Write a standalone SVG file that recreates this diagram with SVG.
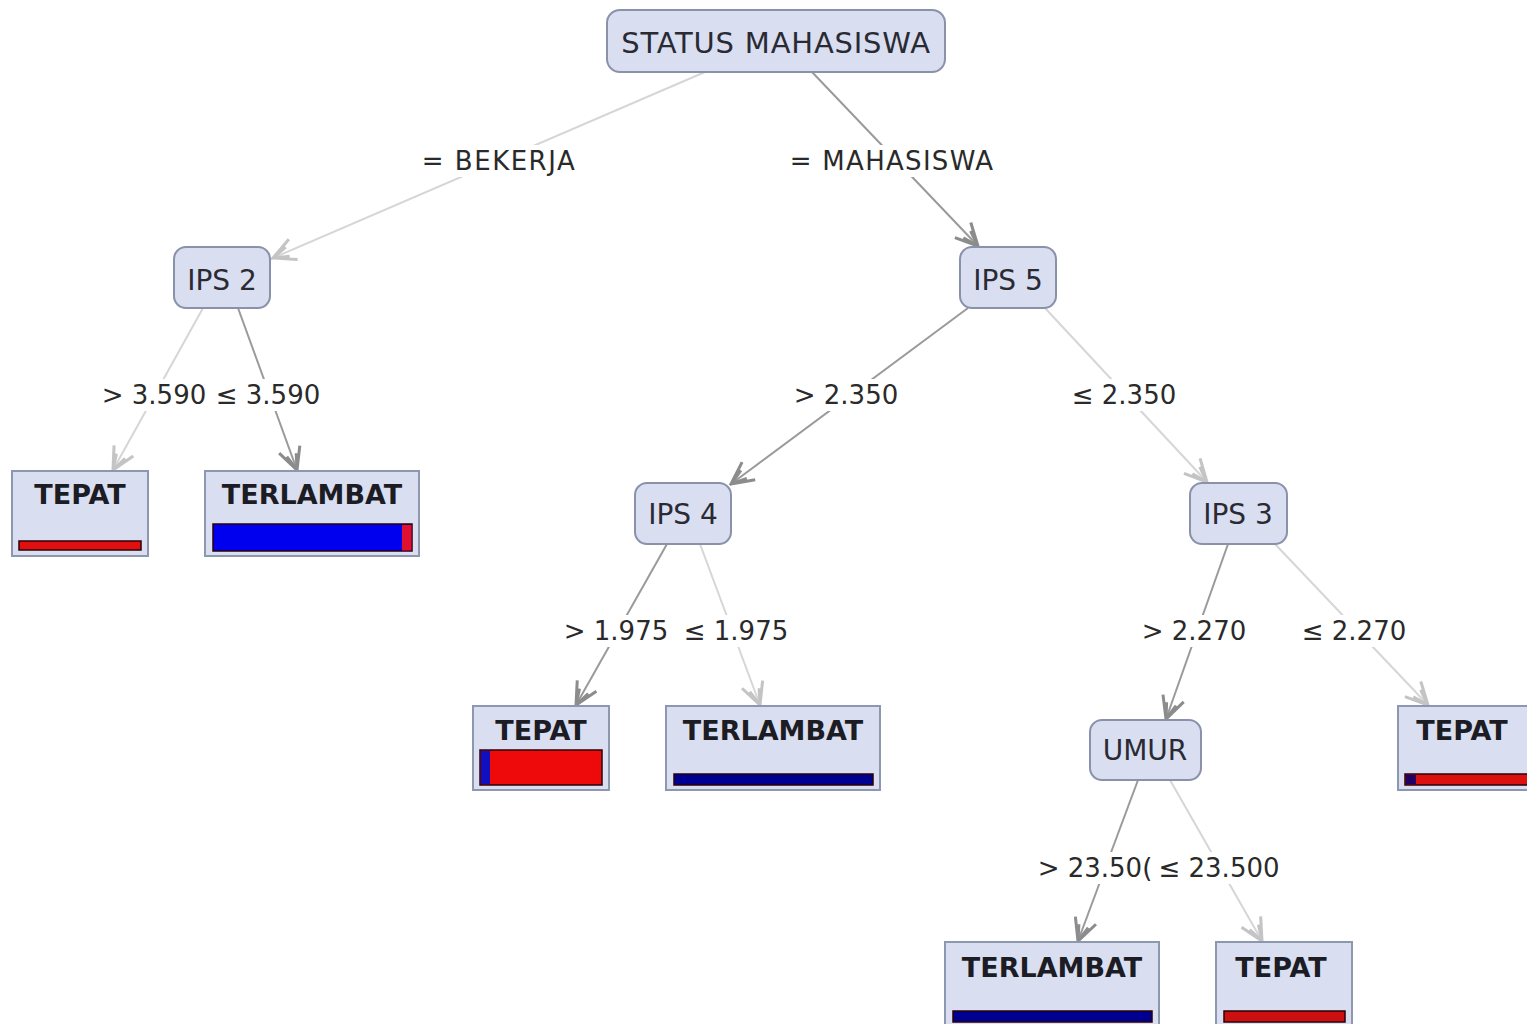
<svg xmlns="http://www.w3.org/2000/svg" width="1527" height="1024" viewBox="0 0 1527 1024">
<style>
.node rect{fill:#d9def1;stroke:#8a92ab;stroke-width:2}
.node text{font-family:"DejaVu Sans",sans-serif;font-size:28px;fill:#2a2a33;text-anchor:middle}
.leaf .box{fill:#d9dff1;stroke:#8e97b0;stroke-width:2}
.leaf text{font-family:"DejaVu Sans",sans-serif;font-weight:bold;font-size:27px;fill:#1c1c24;text-anchor:middle}
.bar{stroke:#2a0008;stroke-width:1.5}
.e{fill:none;stroke-width:2}
.dk{stroke:#9a9a9a}
.lt{stroke:#d6d6d6}
.lbl text{font-family:"DejaVu Sans",sans-serif;font-size:26px;fill:#2a2a2a;text-anchor:middle}
.lbl rect{fill:#ffffff}
</style>
<defs>
<marker id="ad" viewBox="-26 -13 28 26" refX="0" refY="0" markerWidth="28" markerHeight="26" markerUnits="userSpaceOnUse" orient="auto">
<path d="M-22,-11 L0,0 L-22,11 M-16,-5 L0,0 L-16,5" fill="none" stroke="#8c8c8c" stroke-width="3"/>
</marker>
<marker id="al" viewBox="-26 -13 28 26" refX="0" refY="0" markerWidth="28" markerHeight="26" markerUnits="userSpaceOnUse" orient="auto">
<path d="M-22,-11 L0,0 L-22,11 M-16,-5 L0,0 L-16,5" fill="none" stroke="#c4c4c4" stroke-width="3"/>
</marker>
</defs>
<rect width="1527" height="1024" fill="#ffffff"/>
<g id="connectors">
<line class="e lt" x1="705" y1="72" x2="273" y2="258" marker-end="url(#al)"/>
<line class="e dk" x1="812" y1="72" x2="978" y2="246" marker-end="url(#ad)"/>
<line class="e lt" x1="203" y1="308" x2="113" y2="470" marker-end="url(#al)"/>
<line class="e dk" x1="238" y1="308" x2="297" y2="470" marker-end="url(#ad)"/>
<line class="e dk" x1="968" y1="308" x2="731" y2="484" marker-end="url(#ad)"/>
<line class="e lt" x1="1045" y1="308" x2="1207" y2="482" marker-end="url(#al)"/>
<line class="e dk" x1="667" y1="544" x2="576" y2="705" marker-end="url(#ad)"/>
<line class="e lt" x1="700" y1="544" x2="760" y2="705" marker-end="url(#al)"/>
<line class="e dk" x1="1228" y1="544" x2="1166" y2="719" marker-end="url(#ad)"/>
<line class="e lt" x1="1275" y1="544" x2="1428" y2="705" marker-end="url(#al)"/>
<line class="e dk" x1="1138" y1="780" x2="1078" y2="941" marker-end="url(#ad)"/>
<line class="e lt" x1="1170" y1="780" x2="1262" y2="941" marker-end="url(#al)"/>
<g class="lbl">
<rect x="416" y="145" width="166" height="32"/><text x="499" y="170" letter-spacing="1.5">= BEKERJA</text>
<rect x="786" y="145" width="212" height="32"/><text x="892" y="170" letter-spacing="1.3">= MAHASISWA</text>
<rect x="100" y="379" width="224" height="32"/><text x="154" y="404">&gt; 3.590</text><text x="268" y="404">≤ 3.590</text>
<rect x="792" y="379" width="108" height="32"/><text x="846" y="404">&gt; 2.350</text>
<rect x="1068" y="379" width="112" height="32"/><text x="1124" y="404">≤ 2.350</text>
<rect x="562" y="615" width="228" height="32"/><text x="616" y="640">&gt; 1.975</text><text x="736" y="640">≤ 1.975</text>
<rect x="1140" y="615" width="108" height="32"/><text x="1194" y="640">&gt; 2.270</text>
<rect x="1298" y="615" width="110" height="32"/><text x="1354" y="640">≤ 2.270</text>
<rect x="1040" y="852" width="240" height="32"/><text x="1095" y="877">&gt; 23.50(</text><text x="1219" y="877">≤ 23.500</text>
</g>
</g>
<g id="n-status" class="node"><rect x="607" y="10" width="338" height="62" rx="13"/><text x="776" y="53" style="font-size:29px" letter-spacing="0.8">STATUS MAHASISWA</text></g>
<g id="n-ips2" class="node"><rect x="174" y="247" width="96" height="61" rx="12"/><text x="222" y="290">IPS 2</text></g>
<g id="n-ips5" class="node"><rect x="960" y="247" width="96" height="61" rx="12"/><text x="1008" y="290">IPS 5</text></g>
<g id="n-ips4" class="node"><rect x="635" y="483" width="96" height="61" rx="12"/><text x="683" y="524">IPS 4</text></g>
<g id="n-ips3" class="node"><rect x="1190" y="483" width="97" height="61" rx="12"/><text x="1238" y="524">IPS 3</text></g>
<g id="n-umur" class="node"><rect x="1090" y="720" width="111" height="60" rx="12"/><text x="1145" y="760">UMUR</text></g>
<g id="l-tepat1" class="leaf"><rect class="box" x="12" y="471" width="136" height="85"/><text x="80" y="504">TEPAT</text><rect class="bar" x="19" y="541" width="122" height="9" fill="#e01010"/></g>
<g id="l-terlambat1" class="leaf"><rect class="box" x="205" y="471" width="214" height="85"/><text x="312" y="504">TERLAMBAT</text><rect class="bar" x="213" y="524" width="199" height="27" fill="#0000ee"/><rect x="402" y="525" width="9.5" height="25.5" fill="#e01030"/></g>
<g id="l-tepat2" class="leaf"><rect class="box" x="473" y="706" width="136" height="84"/><text x="541" y="740">TEPAT</text><rect class="bar" x="480" y="750" width="122" height="35" fill="#ee0a0a"/><rect x="481" y="751" width="9" height="33" fill="#1010c0"/></g>
<g id="l-terlambat2" class="leaf"><rect class="box" x="666" y="706" width="214" height="84"/><text x="773" y="740">TERLAMBAT</text><rect class="bar" x="674" y="774" width="199" height="11" fill="#000090"/></g>
<g id="l-tepat3" class="leaf"><rect class="box" x="1398" y="706" width="140" height="84"/><text x="1462" y="740">TEPAT</text><rect class="bar" x="1405" y="774" width="130" height="11" fill="#dd1010"/><rect x="1406" y="775" width="10" height="9" fill="#200060"/></g>
<g id="l-terlambat3" class="leaf"><rect class="box" x="945" y="942" width="214" height="90"/><text x="1052" y="977">TERLAMBAT</text><rect class="bar" x="953" y="1011" width="199" height="11" fill="#000090"/></g>
<g id="l-tepat4" class="leaf"><rect class="box" x="1216" y="942" width="136" height="90"/><text x="1281" y="977">TEPAT</text><rect class="bar" x="1224" y="1011" width="121" height="11" fill="#cc1010"/></g>
</svg>
